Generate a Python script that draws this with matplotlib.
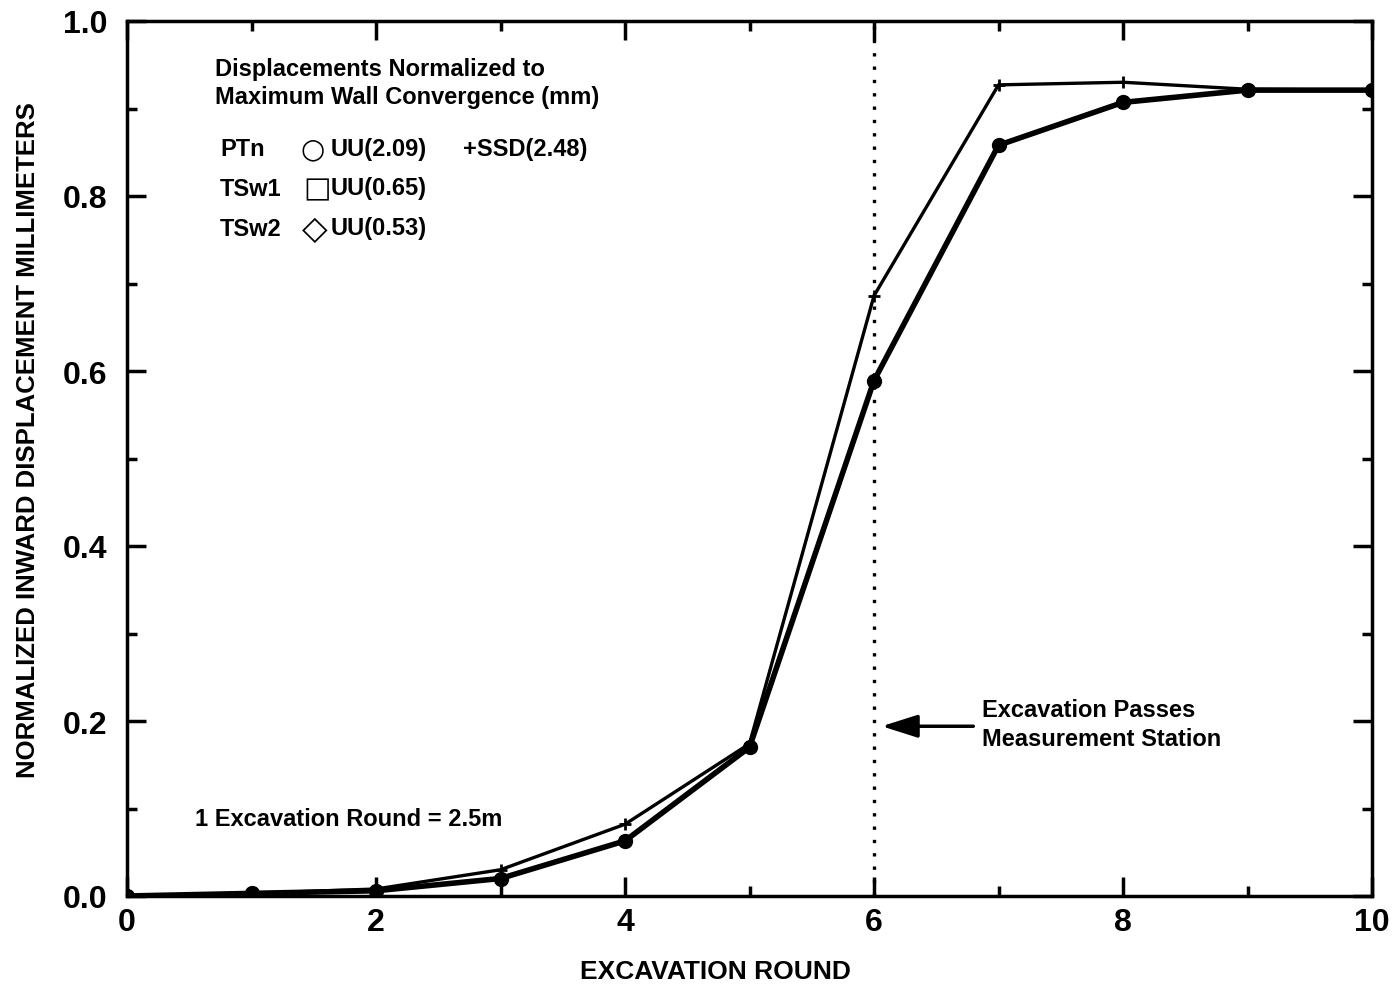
import numpy as np
import matplotlib
matplotlib.use("Agg")
from matplotlib import pyplot as plt
from matplotlib.ticker import MultipleLocator, FormatStrFormatter

plt.rcParams['font.family'] = ['Liberation Sans', 'DejaVu Sans']
plt.rcParams['font.weight'] = 'bold'

# excavation rounds
rounds = [0, 1, 2, 3, 4, 5, 6, 7, 8, 9, 10]
# normalized displacements
ssd = [0.0, 0.003, 0.008, 0.030, 0.082, 0.174, 0.686, 0.927, 0.930, 0.922, 0.921]
uu = [0.0, 0.003, 0.006, 0.020, 0.063, 0.170, 0.589, 0.858, 0.907, 0.921, 0.921]

fig = plt.figure(figsize=(13.98, 9.87), dpi=100)
ax = fig.add_axes([127/1398, 90/987, (1372-127)/1398, (897-22)/987])

ax.plot(rounds, ssd, color='black', lw=2.4, marker='+', ms=8, mew=2)
ax.plot(rounds, uu, color='black', lw=4.0, marker='o', ms=10)
ax.axvline(6, color='black', ls=(0, (1, 3)), lw=2.4)

ax.set_xlim(0, 10)
ax.set_ylim(0, 1.0)
ax.xaxis.set_major_locator(MultipleLocator(2))
ax.xaxis.set_minor_locator(MultipleLocator(1))
ax.yaxis.set_major_locator(MultipleLocator(0.2))
ax.yaxis.set_minor_locator(MultipleLocator(0.1))
ax.yaxis.set_major_formatter(FormatStrFormatter('%.1f'))
ax.tick_params(which='both', direction='in', top=True, right=True, width=2.5, labelsize=23)
ax.tick_params(which='major', length=14)
ax.tick_params(which='minor', length=7)
ax.tick_params(axis='y', pad=14)
ax.tick_params(axis='x', pad=8)
for s in ax.spines.values():
    s.set_linewidth(2.5)

def fx(px):
    return (px - 127) / 1245
def fy(py):
    return (897 - py) / 875

ax.set_xlabel('EXCAVATION ROUND', fontsize=19, fontweight='bold')
ax.xaxis.set_label_coords(fx(715), fy(972))
ax.set_ylabel('NORMALIZED INWARD DISPLACEMENT MILLIMETERS', fontsize=18.5, fontweight='bold')
ax.yaxis.set_label_coords(fx(28), fy(440))
ax.xaxis.label.set_va('center')
ax.yaxis.label.set_va('center')

# legend-like text block
tf = dict(transform=ax.transAxes, fontsize=17, fontweight='bold', va='center')
ax.text(fx(215), fy(69), 'Displacements Normalized to', **tf)
ax.text(fx(215), fy(97), 'Maximum Wall Convergence (mm)', **tf)
ax.text(fx(220), fy(149), 'PTn', **tf)
ax.text(fx(220), fy(189), 'TSw1', **tf)
ax.text(fx(220), fy(229), 'TSw2', **tf)
ax.text(fx(300), fy(149), '○', transform=ax.transAxes, fontsize=20, va='center', family=['DejaVu Sans'])
ax.text(fx(303), fy(189), '□', transform=ax.transAxes, fontsize=21, va='center', family=['DejaVu Sans'])
ax.text(fx(302), fy(229), '◇', transform=ax.transAxes, fontsize=24, va='center', family=['DejaVu Sans'])
ax.text(fx(331), fy(149), 'UU(2.09)', **tf)
ax.text(fx(463), fy(149), '+SSD(2.48)', **tf)
ax.text(fx(331), fy(189), 'UU(0.65)', **tf)
ax.text(fx(331), fy(229), 'UU(0.53)', **tf)

ax.text(fx(195), fy(820), '1 Excavation Round = 2.5m', **tf)

ax.annotate('', xy=(6.04, 0.194), xytext=(6.82, 0.194),
            arrowprops=dict(arrowstyle='-|>,head_length=2.2,head_width=0.7', color='black', lw=2.5))
ax.text(6.87, 0.213, 'Excavation Passes', fontsize=17, fontweight='bold', va='center')
ax.text(6.87, 0.180, 'Measurement Station', fontsize=17, fontweight='bold', va='center')

fig.savefig('out.png', dpi=100)
